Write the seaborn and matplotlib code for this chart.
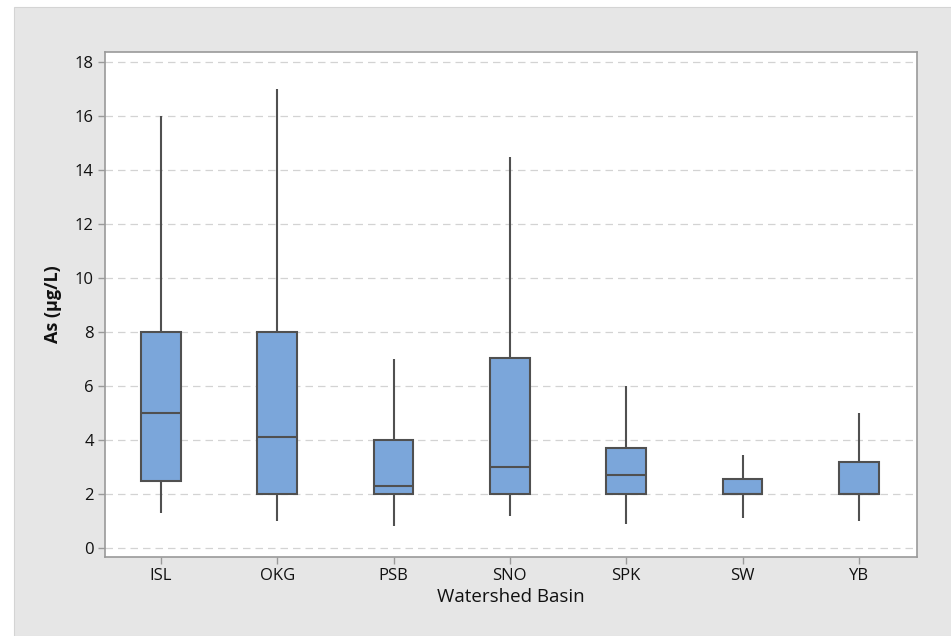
import matplotlib
matplotlib.use("Agg")
import matplotlib.pyplot as plt
from matplotlib.patches import Rectangle
import seaborn as sns
import pandas as pd

# Five-number summaries of arsenic concentration per watershed basin
basins = ["ISL", "OKG", "PSB", "SNO", "SPK", "SW", "YB"]
whisker_low = [1.3, 1.0, 0.8, 1.2, 0.9, 1.1, 1.0]
q1 = [2.5, 2.0, 2.0, 2.0, 2.0, 2.0, 2.0]
median = [5.0, 4.1, 2.3, 3.0, 2.7, 2.0, 2.0]
q3 = [8.0, 8.0, 4.0, 7.05, 3.7, 2.55, 3.2]
whisker_high = [16.0, 17.0, 7.0, 14.5, 6.0, 3.45, 5.0]
y_ticks = [0, 2, 4, 6, 8, 10, 12, 14, 16, 18]

rows = []
for i, b in enumerate(basins):
    for v in (whisker_low[i], q1[i], median[i], q3[i], whisker_high[i]):
        rows.append({"Watershed Basin": b, "As": v})
df = pd.DataFrame(rows)

sns.set_theme(style="white")
plt.rcParams["font.family"] = ["Open Sans", "DejaVu Sans"]

fig = plt.figure(figsize=(9.51, 6.36), dpi=100, facecolor="white")
# grey panel behind the plot
fig.patches.append(Rectangle((14 / 951, 0), 1, 629 / 636, transform=fig.transFigure,
                             facecolor="#e6e6e6", edgecolor="#d4d4d4", linewidth=0.8,
                             zorder=-10))

ax = fig.add_axes([105 / 951, 79 / 636, 812 / 951, 505 / 636])
ax.set_facecolor("white")

edge = "#505050"
sns.boxplot(data=df, x="Watershed Basin", y="As", order=basins, ax=ax,
            whis=(0, 100), width=0.34, color="#7ba6da", saturation=1,
            linecolor=edge, linewidth=1.5, showcaps=False,
            medianprops={"color": edge, "linewidth": 1.5},
            boxprops={"facecolor": "#7ba6da", "edgecolor": edge},
            zorder=3)

ax.set_ylim(-0.33, 18.37)
ax.set_xlim(-0.48, 6.5)
ax.set_yticks(y_ticks)
ax.yaxis.grid(True, linestyle=(0, (6, 4)), color="#d3d3d3", linewidth=0.9, zorder=0)
ax.xaxis.grid(False)
ax.set_axisbelow(True)

for s in ax.spines.values():
    s.set_visible(True)
    s.set_color("#9a9a9a")
    s.set_linewidth(1.2)

ax.tick_params(axis="both", which="major", length=5, width=1, color="#9a9a9a",
               labelsize=12, labelcolor="#111111", pad=3,
               bottom=True, left=True)

ax.set_xlabel("Watershed Basin", fontsize=13.5, color="#111111", labelpad=3)
ax.set_ylabel("As (µg/L)", fontsize=13, fontweight="bold", color="#111111", labelpad=9)

fig.savefig("out.png", dpi=100, facecolor=fig.get_facecolor())
